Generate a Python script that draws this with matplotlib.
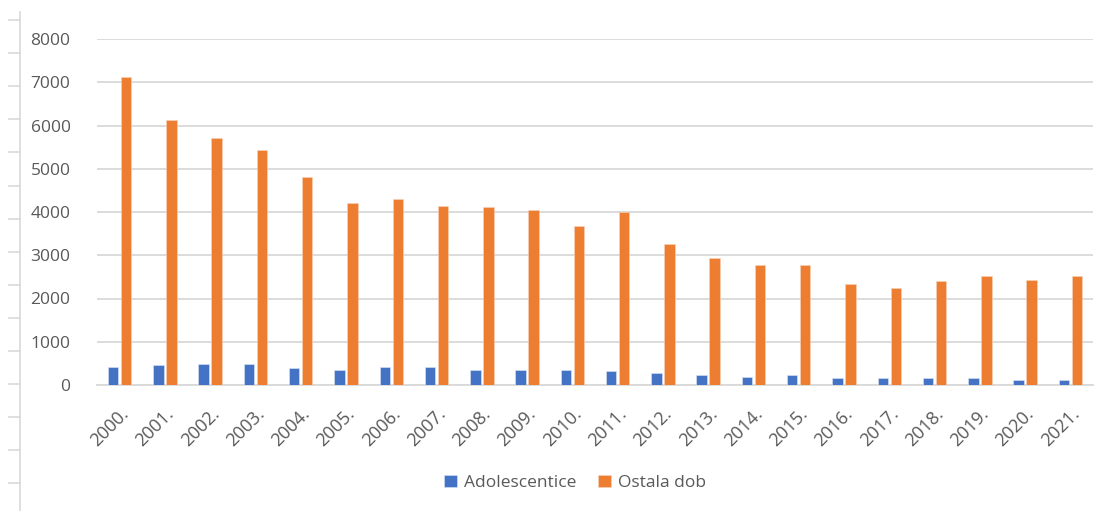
import numpy as np
import matplotlib
matplotlib.use('Agg')
import matplotlib.pyplot as plt
from matplotlib.lines import Line2D

# data
years = ['2000.', '2001.', '2002.', '2003.', '2004.', '2005.', '2006.', '2007.',
         '2008.', '2009.', '2010.', '2011.', '2012.', '2013.', '2014.', '2015.',
         '2016.', '2017.', '2018.', '2019.', '2020.', '2021.']
adolescentice = [420, 455, 485, 485, 385, 355, 424, 424, 355, 355, 355, 320,
                 285, 230, 195, 230, 160, 160, 160, 160, 125, 125]
ostala_dob = [7120, 6130, 5720, 5430, 4820, 4210, 4310, 4150, 4120, 4050, 3670,
              4000, 3260, 2940, 2780, 2780, 2330, 2240, 2400, 2520, 2430, 2520]

blue = '#4472C4'
orange = '#ED7D31'
txt = '#595959'
grid = '#d9d9d9'

plt.rcParams['font.family'] = ['Open Sans', 'DejaVu Sans']

W, H = 1117, 514
fig = plt.figure(figsize=(W / 100, H / 100), dpi=100)
ax = fig.add_axes([97 / W, 1 - 385 / H, (1093 - 97) / W, (385 - 39) / H])

x = np.arange(len(years))
bw = 0.232
off = 0.144
ax.bar(x - off, adolescentice, bw, color=blue, edgecolor='#dbe4f5', linewidth=0.4,
       label='Adolescentice', zorder=3)
ax.bar(x + off, ostala_dob, bw, color=orange, edgecolor='#f8d3bb', linewidth=0.4,
       label='Ostala dob', zorder=3)

ax.set_xlim(-0.5, len(years) - 0.5)
ax.set_ylim(0, 8000)
ax.set_yticks(np.arange(0, 8001, 1000))
ax.yaxis.grid(True, color=grid, linewidth=1.3, zorder=0)
ax.set_axisbelow(True)
for s in ['top', 'right', 'left']:
    ax.spines[s].set_visible(False)
ax.spines['bottom'].set_color(grid)
ax.spines['bottom'].set_linewidth(1.3)

ax.tick_params(axis='y', length=0, pad=19, labelsize=12.5, labelcolor=txt)
ax.tick_params(axis='x', length=0, pad=14, labelsize=13, labelcolor=txt)
ax.set_xticks(x)
ax.set_xticklabels(years, rotation=45, ha='right', va='top', rotation_mode='anchor')

ax.legend(loc='center', bbox_to_anchor=(575 / W, (H - 483) / H), bbox_transform=fig.transFigure,
          ncol=2, frameon=False, fontsize=12.5, labelcolor=txt, handlelength=0.7,
          handleheight=0.7, handletextpad=0.4, columnspacing=1.3)

# stray vertical ruler at the left edge of the picture
fig.add_artist(Line2D([20 / W, 20 / W], [1 - 12 / H, 1 - 510 / H], color=grid, linewidth=1.2,
                      transform=fig.transFigure))
for ty in np.arange(20, 500, 33.1):
    fig.add_artist(Line2D([9 / W, 20 / W], [1 - ty / H, 1 - ty / H], color=grid, linewidth=1.2,
                          transform=fig.transFigure))

fig.savefig('out.png', dpi=100, facecolor='white')
